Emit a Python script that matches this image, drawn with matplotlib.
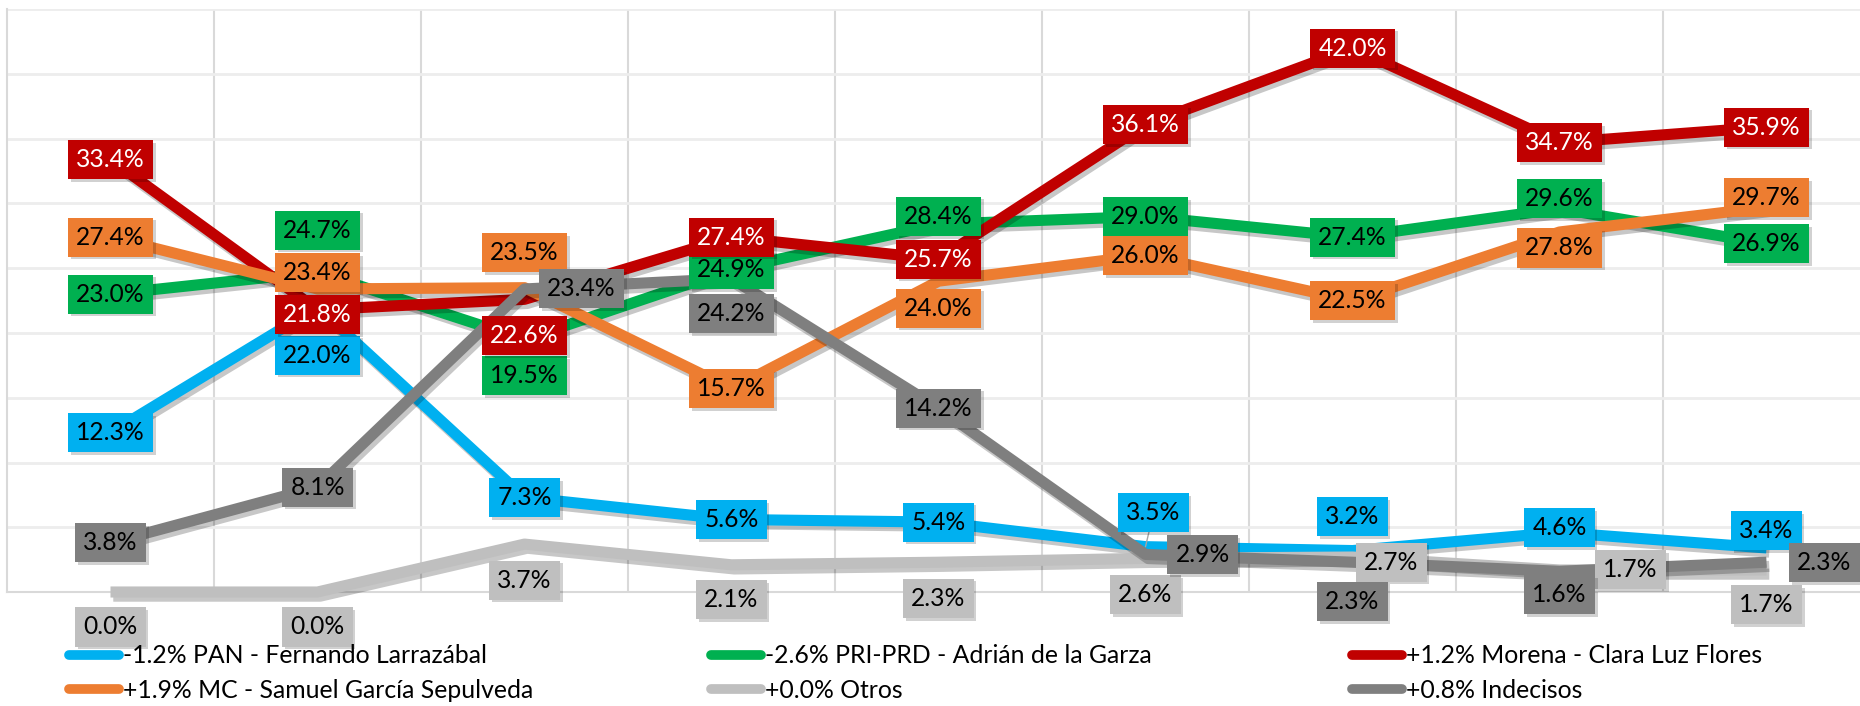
import matplotlib
matplotlib.use("Agg")
from matplotlib import pyplot as plt
from matplotlib import patheffects as pe
from matplotlib.lines import Line2D

plt.rcParams['font.family'] = ['Lato', 'DejaVu Sans']

# porcentaje por medicion (9 mediciones)
pan = [12.3, 22.0, 7.3, 5.6, 5.4, 3.5, 3.2, 4.6, 3.4]
pri = [23.0, 24.7, 19.5, 24.9, 28.4, 29.0, 27.4, 29.6, 26.9]
morena = [33.4, 21.8, 22.6, 27.4, 25.7, 36.1, 42.0, 34.7, 35.9]
mc = [27.4, 23.4, 23.5, 15.7, 24.0, 26.0, 22.5, 27.8, 29.7]
otros = [0.0, 0.0, 3.7, 2.1, 2.3, 2.6, 2.7, 1.7, 1.7]
indecisos = [3.8, 8.1, 23.4, 24.2, 14.2, 2.9, 2.3, 1.6, 2.3]

names = ["-1.2% PAN - Fernando Larrazábal",
         "-2.6% PRI-PRD - Adrián de la Garza",
         "+1.2% Morena - Clara Luz Flores",
         "+1.9% MC - Samuel García Sepulveda",
         "+0.0% Otros",
         "+0.8% Indecisos"]

series = [pan, pri, morena, mc, otros, indecisos]
colors = ['#00B0F0', '#00B050', '#C00000', '#ED7D31', '#BFBFBF', '#7F7F7F']
text_colors = ['black', 'black', 'white', 'black', 'black', 'black']

# label offsets in pixels (dx right, dy down) relative to each point
offsets = [
    [(0, 0), (0, 48), (0, 0), (0, 0), (0, 0), (8, -34), (0, -34), (0, -5), (0, -17)],
    [(0, 0), (0, -42), (0, 36), (0, 0), (0, -8), (0, 0), (0, 0), (0, -10), (0, 0)],
    [(0, 0), (0, 5), (0, 36), (0, 0), (0, 0), (0, 0), (0, 0), (0, 0), (0, 0)],
    [(0, 0), (0, -16), (0, -35), (0, 0), (0, 27), (0, 0), (0, 0), (0, 16), (0, -10)],
    [(0, 35), (0, 35), (0, 36), (0, 35), (0, 36), (0, 36), (39, 5), (71, 0), (0, 35)],
    [(0, 0), (0, 0), (57, 0), (0, 35), (0, 0), (57, 0), (0, 39), (0, 23), (58, 0)],
]
leaders = [(0, 5)]

W, H = 1860, 706
fig = plt.figure(figsize=(W / 100, H / 100), dpi=100)
renderer = fig.canvas.get_renderer()


def fit_size(text, width_px, size=20):
    # font size that makes text about width_px wide
    t = fig.text(0, 0, text, fontsize=size)
    w = t.get_window_extent(renderer).width
    t.remove()
    return size * width_px / w


label_fs = fit_size("33.4%", 68)
legend_fs = fit_size(names[0], 363)

ax = fig.add_axes([7 / W, 1 - 592 / H, (W - 7) / W, (592 - 9.25) / H])

x = list(range(len(pan)))
ax.set_xlim(-0.5, -0.5 + (W - 7) / 207)
ax.set_ylim(0, 45)

# grid
ax.set_yticks(range(0, 46, 5))
ax.set_xticks([i + 0.5 for i in range(8)])
ax.yaxis.grid(True, color='#EDEDED', lw=2)
ax.xaxis.grid(True, color='#D9D9D9', lw=1.5)
ax.tick_params(length=0, labelbottom=False, labelleft=False)
ax.set_axisbelow(True)
for s in ['top', 'right']:
    ax.spines[s].set_visible(False)
for s in ['left', 'bottom']:
    ax.spines[s].set_color('#D9D9D9')
    ax.spines[s].set_linewidth(1.5)

shadow = [pe.SimpleLineShadow(offset=(2, -3), shadow_color='black', alpha=0.22), pe.Normal()]

for k, vals in enumerate(series):
    ax.plot(x, vals, color=colors[k], lw=8, solid_joinstyle='round',
            solid_capstyle='butt', path_effects=shadow, zorder=3 + k, clip_on=False)

pad = 8 / (label_fs * 100 / 72)
for k, vals in enumerate(series):
    for i, v in enumerate(vals):
        dx, dy = offsets[k][i]
        arrow = None
        if (k, i) in leaders:
            arrow = dict(arrowstyle='-', color='#A6A6A6', lw=1, shrinkA=0, shrinkB=0)
        t = ax.annotate(f"{v:.1f}%", (i, v), xytext=(dx, -dy), textcoords='offset pixels',
                        ha='center', va='center', fontsize=label_fs, color=text_colors[k],
                        bbox=dict(boxstyle=f'square,pad={pad:.3f}', fc=colors[k], ec='none'),
                        arrowprops=arrow, zorder=20 + k, annotation_clip=False)
        t.get_bbox_patch().set_path_effects(
            [pe.withSimplePatchShadow(offset=(2, -2), shadow_rgbFace='black', alpha=0.18)])

# legend, three columns
handles = [Line2D([], [], color=c, lw=7, solid_capstyle='round') for c in colors]
cols = [(0, 3), (1, 4), (2, 5)]
text_x = [127, 769, 1410]
fs_px = legend_fs * 100 / 72
for k, (a, b) in enumerate(cols):
    fig.legend([handles[a], handles[b]], [names[a], names[b]],
               loc='center left',
               bbox_to_anchor=((text_x[k] - 54 - 0.15 * fs_px) / W, 1 - 673 / H),
               frameon=False, fontsize=legend_fs, handlelength=50 / fs_px,
               handletextpad=0.15, labelspacing=(40 - 1.17 * fs_px) / fs_px,
               borderpad=0, borderaxespad=0)

fig.savefig('out.png', dpi=100)
